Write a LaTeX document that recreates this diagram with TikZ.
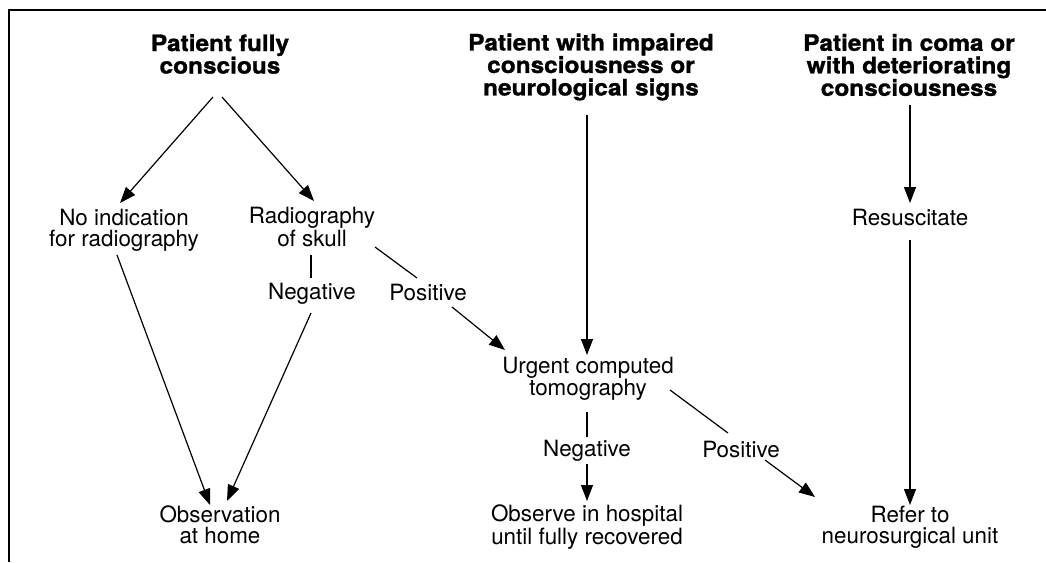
\documentclass[tikz,border=0pt]{standalone}
\usepackage{fontspec}
\setmainfont{TeX Gyre Heros}
\newfontfamily\hfont[FakeStretch=1.08,FakeBold=1.2]{TeX Gyre Heros}
\usetikzlibrary{arrows.meta}
\tikzset{
  lbl/.style={inner sep=0pt, align=center, font=\fontsize{22.4}{21}\selectfont},
  head/.style={inner sep=0pt, align=center, font=\hfont\bfseries\fontsize{22.6}{22.5}\selectfont},
  link/.style={line width=1.2pt},
  arr/.style={line width=1.2pt, -{Triangle[length=16pt,width=12pt]}},
  frame/.style={line width=2pt}
}
\begin{document}
\begin{tikzpicture}[x=1pt,y=-1pt]
\useasboundingbox (0,0) rectangle (1046,562);
% frame
\coordinate (fbl) at (9,562);
\coordinate (ftl) at (9,10);
\coordinate (ftr) at (1046,10);
\draw[frame] (fbl) -- (ftl) -- (ftr);
% headers
\node[head] (h1) at (220,54) {Patient fully\\conscious};
\node[head] (h2) at (591,67) {Patient with impaired\\consciousness or\\neurological signs};
\node[head] (h3) at (909,65) {Patient in coma or\\with deteriorating\\consciousness};
% labels
\node[lbl] (noind) at (124,230) {No indication\\for radiography};
\node[lbl] (rad) at (312,227) {Radiography\\of skull};
\node[lbl] (neg1) at (312,294) {Negative};
\node[lbl] (pos1) at (428,292) {Positive};
\node[lbl] (obs) at (220,525) {Observation\\at home};
\node[lbl] (ct) at (588,379) {Urgent computed\\tomography};
\node[lbl] (neg2) at (587,451) {Negative};
\node[lbl] (pos2) at (741,449) {Positive};
\node[lbl] (hosp) at (587,527) {Observe in hospital\\until fully recovered};
\node[lbl] (resus) at (910,218) {Resuscitate};
\node[lbl] (refer) at (910,527) {Refer to\\neurosurgical unit};
% connector end points
\coordinate (h1l) at (213,97);
\coordinate (h1r) at (222,97);
\coordinate (noindT) at (120,203);
\coordinate (radT) at (314,201);
\coordinate (noindB) at (117,255);
\coordinate (obsL) at (210,505);
\coordinate (radB) at (311,255);
\coordinate (neg1T) at (311,278);
\coordinate (neg1B) at (311,313);
\coordinate (obsR) at (227,501);
\coordinate (radR) at (375,247);
\coordinate (pos1T) at (417,278);
\coordinate (pos1B) at (452,307);
\coordinate (ctL) at (505,350);
\coordinate (h2B) at (587,115);
\coordinate (ctT) at (587,355);
\coordinate (ctB) at (587,412);
\coordinate (neg2T) at (587,437);
\coordinate (neg2B) at (587,464);
\coordinate (hospT) at (587,501);
\coordinate (ctR) at (670,390);
\coordinate (pos2T) at (728,433);
\coordinate (pos2B) at (765,460);
\coordinate (referL) at (815,497);
\coordinate (h3B) at (910,105);
\coordinate (resusT) at (910,203);
\coordinate (resusB) at (910,240);
\coordinate (referT) at (910,505);
% connectors
\draw[arr] (h1l) -- (noindT);
\draw[arr] (h1r) -- (radT);
\draw[arr] (noindB) -- (obsL);
\draw[link] (radB) -- (neg1T);
\draw[arr] (neg1B) -- (obsR);
\draw[link] (radR) -- (pos1T);
\draw[arr] (pos1B) -- (ctL);
\draw[arr] (h2B) -- (ctT);
\draw[link] (ctB) -- (neg2T);
\draw[arr] (neg2B) -- (hospT);
\draw[link] (ctR) -- (pos2T);
\draw[arr] (pos2B) -- (referL);
\draw[arr] (h3B) -- (resusT);
\draw[arr] (resusB) -- (referT);
\end{tikzpicture}
\end{document}
